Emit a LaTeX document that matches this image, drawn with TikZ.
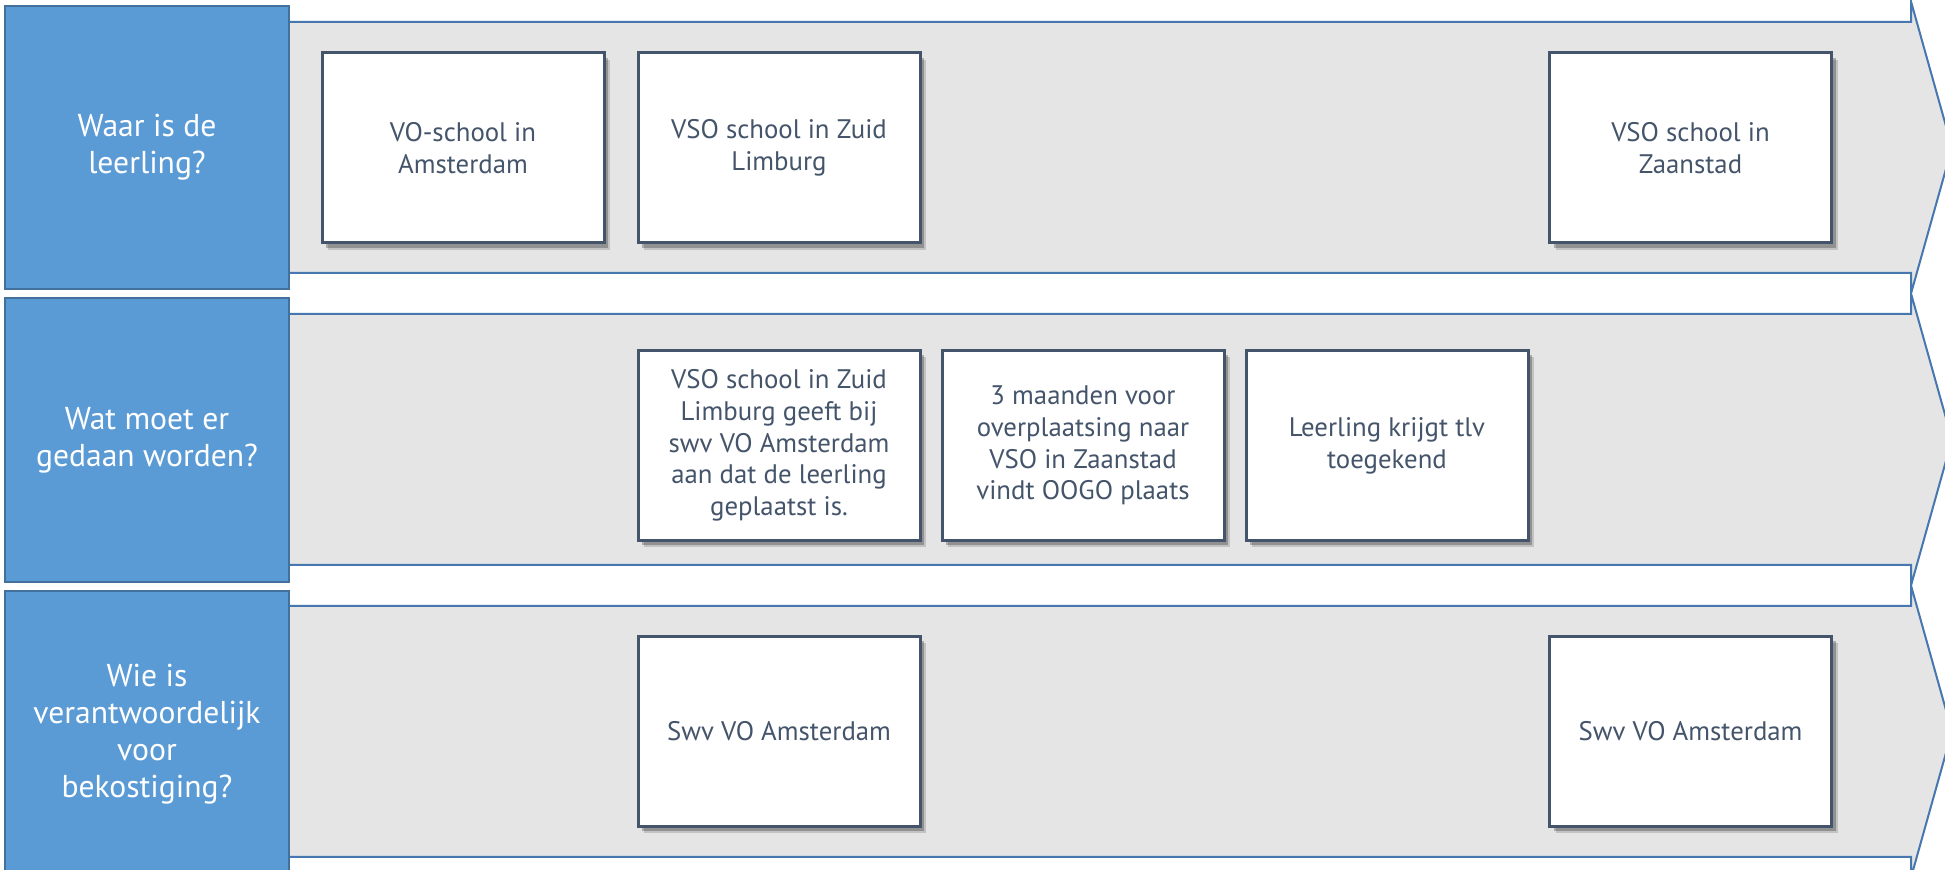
\documentclass[tikz,border=0pt]{standalone}
\usepackage{fontspec}
\setmainfont{PT Sans}
\usetikzlibrary{shadows}
\definecolor{bluefill}{HTML}{5B9BD5}
\definecolor{blueline}{HTML}{41719C}
\definecolor{bandline}{HTML}{4677AE}
\definecolor{bandfill}{HTML}{E5E5E5}
\definecolor{boxline}{HTML}{44546A}
\begin{document}
\begin{tikzpicture}[x=0.5pt,y=-0.5pt,
  rowlabel/.style={draw=blueline, line width=1pt, fill=bluefill, text=white, align=center,
    font=\fontsize{15.8}{18.5}\selectfont, inner sep=0, minimum width=142pt},
  band/.style={draw=bandline, line width=1pt, fill=bandfill, line join=miter},
  card/.style={draw=boxline, line width=1.5pt, fill=white, text=boxline, align=center,
    font=\fontsize{13.4}{15.9}\selectfont, minimum width=141pt, minimum height=95pt, inner sep=0,
    general shadow={fill=black, opacity=0.15, shadow xshift=3pt, shadow yshift=-3.5pt},
    general shadow={fill=black, opacity=0.25, shadow xshift=2pt, shadow yshift=-2.4pt}}]
\useasboundingbox (0,0) rectangle (1945,870);
\clip (0,0) rectangle (1945,870);
\fill[white] (0,0) rectangle (1945,870);
% bands
\draw[band] (280,22) -- (1911,22) -- (1911,1.5) -- (1952,147.5) -- (1911,293.5) -- (1911,273) -- (280,273) -- cycle;
\draw[band] (280,314) -- (1911,314) -- (1911,293.5) -- (1952,439.5) -- (1911,585.5) -- (1911,565) -- (280,565) -- cycle;
\draw[band] (280,606) -- (1911,606) -- (1911,585.5) -- (1952,731.5) -- (1911,877.5) -- (1911,857) -- (280,857) -- cycle;
% row labels
\node[rowlabel, minimum height=141.5pt] (l1) at (147,147.5) {Waar is de\\leerling?};
\node[rowlabel, minimum height=142pt] (l2) at (147,440) {Wat moet er\\gedaan worden?};
\node[rowlabel, minimum height=143pt] (l3) at (147,734) {Wie is\\verantwoordelijk\\voor\\bekostiging?};
% row 1
\node[card] (a1) at (463,148) {VO-school in\\Amsterdam};
\node[card] (a2) at (779,148) {VSO school in Zuid\\Limburg};
\node[card] (a3) at (1690.5,148) {VSO school in\\Zaanstad};
% row 2
\node[card] (b1) at (779,445.5) {VSO school in Zuid\\Limburg geeft bij\\swv VO Amsterdam\\aan dat de leerling\\geplaatst is.};
\node[card] (b2) at (1083,445.5) {3 maanden voor\\overplaatsing naar\\VSO in Zaanstad\\vindt OOGO plaats};
\node[card] (b3) at (1387,445.5) {Leerling krijgt tlv\\toegekend};
% row 3
\node[card] (c1) at (779,731.5) {Swv VO Amsterdam};
\node[card] (c2) at (1690.5,731.5) {Swv VO Amsterdam};
\end{tikzpicture}
\end{document}
